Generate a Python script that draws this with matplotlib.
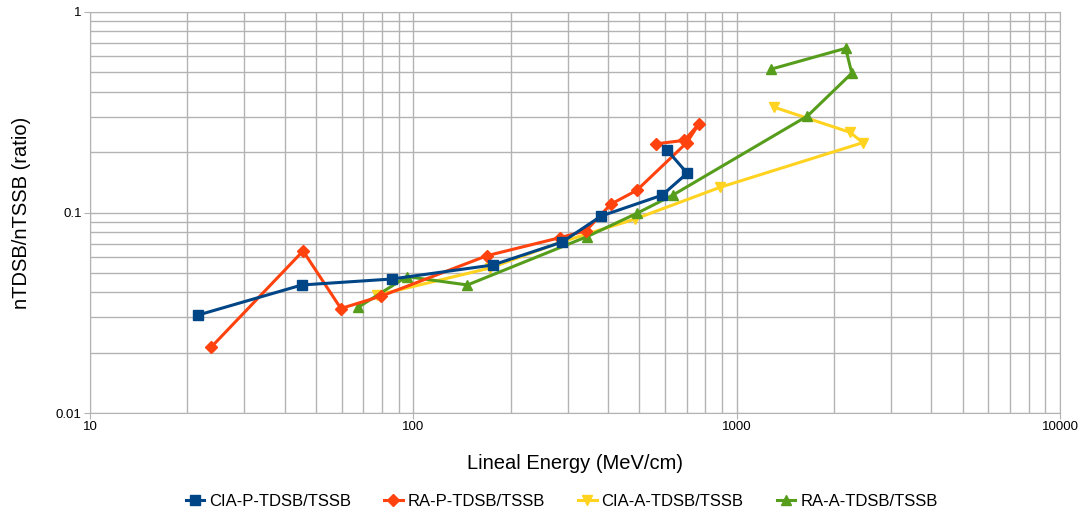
import matplotlib
matplotlib.use("Agg")
import matplotlib.pyplot as plt
from matplotlib.ticker import FixedLocator, FixedFormatter, LogLocator, NullFormatter

plt.rcParams['font.family'] = ['Liberation Sans', 'DejaVu Sans']

# data (lineal energy in MeV/cm, ratio)
cia_p_x = [21.6, 45.2, 85.9, 176, 289, 381, 588, 703, 609]
cia_p_y = [0.0308, 0.0435, 0.0466, 0.0547, 0.0713, 0.096, 0.122, 0.157, 0.205]

ra_p_x = [23.7, 45.6, 59.7, 79.6, 169, 284, 342, 408, 491, 701, 765, 689, 563]
ra_p_y = [0.0213, 0.0643, 0.0332, 0.0383, 0.0609, 0.0749, 0.0811, 0.110, 0.129,
          0.223, 0.277, 0.229, 0.220]

cia_a_x = [77.1, 173, 285, 485, 889, 2455, 2244, 1306]
cia_a_y = [0.0387, 0.0529, 0.071, 0.0928, 0.1336, 0.223, 0.251, 0.335]

ra_a_x = [67.6, 95.5, 147, 344, 491, 634, 1656, 2270, 2173, 1274]
ra_a_y = [0.0337, 0.0479, 0.0435, 0.0757, 0.099, 0.122, 0.303, 0.495, 0.659, 0.518]

fig = plt.figure(figsize=(10.82, 5.18), dpi=100)
ax = fig.add_axes([90 / 1082, 1 - 413 / 518, 970 / 1082, 401 / 518])

lw = 2.2
ax.plot(cia_p_x, cia_p_y, color='#004586', marker='s', markersize=7, linewidth=lw,
        label='CIA-P-TDSB/TSSB', zorder=5)
ax.plot(ra_p_x, ra_p_y, color='#ff420e', marker='D', markersize=6, linewidth=lw,
        label='RA-P-TDSB/TSSB', zorder=4)
ax.plot(cia_a_x, cia_a_y, color='#ffd320', marker='v', markersize=7, linewidth=lw,
        label='CIA-A-TDSB/TSSB', zorder=3)
ax.plot(ra_a_x, ra_a_y, color='#579d1c', marker='^', markersize=7, linewidth=lw,
        label='RA-A-TDSB/TSSB', zorder=3)

ax.set_xscale('log')
ax.set_yscale('log')
ax.set_xlim(10, 10000)
ax.set_ylim(0.01, 1)

ax.xaxis.set_major_locator(FixedLocator([10, 100, 1000, 10000]))
ax.xaxis.set_major_formatter(FixedFormatter(['10', '100', '1000', '10000']))
ax.yaxis.set_major_locator(FixedLocator([0.01, 0.1, 1]))
ax.yaxis.set_major_formatter(FixedFormatter(['0.01', '0.1', '1']))
ax.xaxis.set_minor_locator(LogLocator(base=10, subs=range(2, 10)))
ax.yaxis.set_minor_locator(LogLocator(base=10, subs=range(2, 10)))
ax.xaxis.set_minor_formatter(NullFormatter())
ax.yaxis.set_minor_formatter(NullFormatter())

ax.grid(True, which='both', color='#b3b3b3', linewidth=1)
ax.set_axisbelow(True)
for s in ax.spines.values():
    s.set_color('#b3b3b3')
ax.tick_params(which='major', length=4, color='#b3b3b3', labelsize=9.5, pad=2)
ax.tick_params(which='minor', length=0)

ax.set_xlabel('Lineal Energy (MeV/cm)', fontsize=14.5, labelpad=15)
ax.set_ylabel('nTDSB/nTSSB (ratio)', fontsize=14.5, labelpad=18)

fig.legend(loc='lower center', bbox_to_anchor=(0.519, -0.012), ncol=4, frameon=False,
           fontsize=12, handlelength=1.1, handletextpad=0.3, columnspacing=2.0)

fig.savefig('out.png', dpi=100)
